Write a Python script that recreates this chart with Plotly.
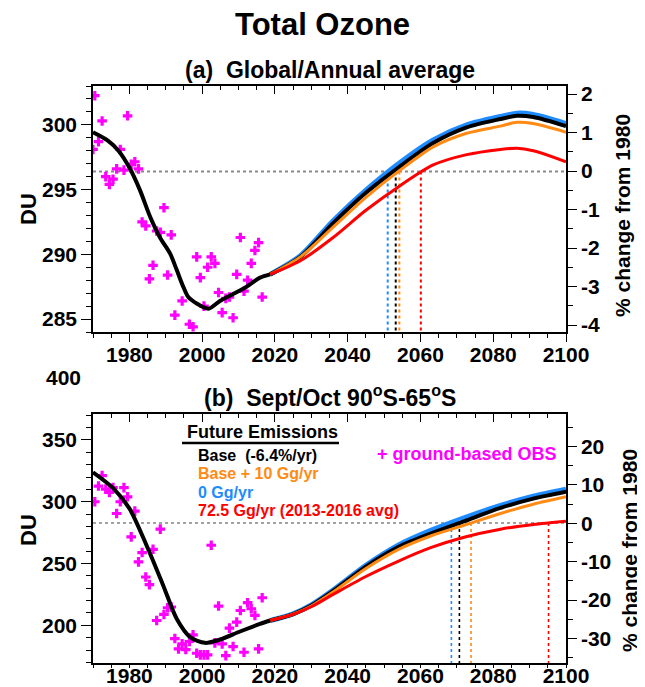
import plotly.graph_objects as go

# ---------------- data: panel (a) global/annual average ----------------
obs_a_years = [1970.0, 1970.5, 1971.5, 1972.5, 1973.5, 1974.5, 1975.5, 1976.5, 1977.5, 1978.5,
               1979.5, 1980.5, 1981.5, 1982.5, 1983.5, 1984.5, 1985.5, 1986.5, 1987.5, 1988.5,
               1989.5, 1990.5, 1991.5, 1992.5, 1994.5, 1996.5, 1997.5, 1998.5, 1999.5, 2000.5,
               2001.5, 2002.5, 2003.5, 2004.5, 2005.5, 2006.5, 2007.5, 2008.5, 2009.5, 2010.5,
               2011.5, 2012.5, 2013.5, 2014.5, 2015.5, 2016.5]
obs_a_du = [298.1, 302.25, 298.7, 300.3, 296.0, 295.4, 295.8, 296.6, 298.1, 296.5,
            300.7, 296.95, 297.15, 296.6, 292.5, 292.2, 288.1, 289.15, 291.8, 291.7,
            293.6, 288.4, 291.5, 285.3, 286.4, 284.6, 284.4, 289.8, 288.2, 286.0,
            289.0, 289.8, 289.3, 287.05, 285.5, 286.6, 286.7, 285.1, 288.45, 291.3,
            287.15, 288.0, 289.3, 290.3, 290.9, 286.7]

hist_a_years = [1970, 1974, 1977, 1980.0, 1982.9, 1985.7, 1988.4, 1991.2, 1993.0, 1994.8,
                1996.2, 1998.5, 2001.7, 2004.9, 2008.6, 2012.2, 2015.9, 2018.7]
hist_a_du = [299.43, 298.8, 298.0, 296.7, 294.96, 292.9, 291.3, 290.05, 288.8, 287.5,
             286.7, 286.2, 285.8, 286.4, 286.95, 287.5, 288.2, 288.45]

fut_a_years = [2018.7, 2027, 2036, 2045, 2054.4, 2063.5, 2072.7, 2082, 2086.5, 2091, 2100]
fut_a_blue = [288.45, 289.9, 292.6, 294.96, 297.1, 298.84, 300.0, 300.65, 300.9, 300.8, 300.1]
fut_a_black = [288.45, 289.8, 292.4, 294.75, 296.8, 298.6, 299.8, 300.45, 300.7, 300.6, 299.9]
fut_a_orange = [288.45, 289.8, 292.1, 294.4, 296.5, 298.3, 299.35, 299.9, 300.2, 300.1, 299.43]
fut_a_red = [288.45, 289.5, 291.3, 293.4, 295.3, 296.9, 297.7, 298.1, 298.2, 298.0, 297.15]

ref_a = 296.4
cross_a = {"blue": 2051.0, "black": 2053.2, "orange": 2054.2, "red": 2060.1}

# ---------------- data: panel (b) Sept/Oct 90S-65S ----------------
obs_b_years = [1970.5, 1971.5, 1972.5, 1973.5, 1974.5, 1975.5, 1976.5, 1977.5, 1978.5, 1979.5,
               1980.5, 1981.5, 1982.5, 1983.5, 1984.5, 1985.5, 1986.5, 1987.5, 1988.5, 1989.5,
               1990.5, 1991.5, 1992.5, 1993.5, 1994.5, 1995.5, 1996.5, 1997.5, 1998.5, 1999.5,
               2000.5, 2001.5, 2002.5, 2003.5, 2004.5, 2005.5, 2006.5, 2007.5, 2008.5, 2009.5,
               2010.5, 2011.5, 2012.5, 2013.5, 2014.5, 2015.5, 2016.5]
obs_b_du = [300.0, 312.7, 321.1, 310.2, 307.5, 311.4, 290.5, 300.0, 311.4, 304.0,
            271.6, 292.4, 251.3, 258.9, 239.1, 232.9, 261.5, 203.9, 277.8, 208.8,
            214.2, 214.8, 189.3, 180.9, 185.0, 180.4, 186.9, 192.3, 177.4, 176.1,
            176.1, 176.1, 264.8, 185.8, 215.6, 185.0, 175.5, 197.7, 182.8, 202.6,
            212.0, 178.2, 218.3, 213.4, 208.0, 180.9, 222.3]

hist_b_years = [1970, 1975.6, 1980.0, 1984.7, 1989.3, 1993.0, 1996.7, 2000.8, 2004.9, 2010.4,
                2015.9, 2018.7]
hist_b_du = [323.8, 310.8, 294.6, 264.8, 232.3, 205.3, 190.5, 185.8, 188.5, 195.0, 201.2, 203.9]

fut_b_years = [2018.7, 2025, 2030, 2036, 2045, 2054, 2063, 2072, 2082, 2091, 2100]
fut_b_blue = [203.9, 209.3, 216.5, 228.5, 248.5, 265.0, 277.0, 287.0, 297.0, 304.5, 310.2]
fut_b_black = [203.9, 209.1, 216.0, 227.8, 247.5, 263.5, 274.5, 284.2, 295.0, 302.5, 308.1]
fut_b_orange = [203.9, 209.0, 215.6, 227.0, 246.0, 261.5, 272.5, 281.0, 290.5, 298.0, 304.0]
fut_b_red = [203.9, 208.8, 215.0, 225.0, 239.5, 252.0, 263.0, 271.3, 277.8, 281.6, 284.3]

ref_b = 282.8
cross_b = {"blue": 2068.5, "black": 2070.7, "orange": 2073.9, "red": 2095.2}

# tick values
xt = [1980, 2000, 2020, 2040, 2060, 2080, 2100]
pct_a = [-4, -3, -2, -1, 0, 1, 2]
pct_b = [-30, -20, -10, 0, 10, 20]

# ---------------- styling / geometry ----------------
FONT = "Liberation Sans, Arial, Helvetica, sans-serif"
COL = {"blue": "#1E8CFF", "black": "#000000", "orange": "#FF8A14", "red": "#FF0000"}
MAG = "#FF00FF"
WID = {"blue": 5, "black": 4, "orange": 3, "red": 3}
OFF = 8          # the page body margin shifts the figure by 8px
W, H = 645 - OFF, 687 - OFF


def fx(px):
    return (px - OFF) / W


def fy(py):
    return 1 - (py - OFF) / H


fig = go.Figure()


def add_panel(xa, ya, yb, xtop, obs_x, obs_y, hx, hy, fxs, fut, ref, cross, ymin, rcol, rw, vw):
    fig.add_trace(go.Scatter(x=[1970, 2100], y=[ref, ref], mode="lines", xaxis=xa, yaxis=ya,
                             line=dict(color=rcol, width=rw, dash="dot"),
                             showlegend=False, hoverinfo="skip"))
    for k in ["blue", "black", "orange", "red"]:
        fig.add_trace(go.Scatter(x=[cross[k], cross[k]], y=[ref, ymin], mode="lines",
                                 xaxis=xa, yaxis=ya,
                                 line=dict(color=COL[k], width=vw, dash="dot"),
                                 showlegend=False, hoverinfo="skip"))
    fig.add_trace(go.Scatter(x=obs_x, y=obs_y, mode="markers", xaxis=xa, yaxis=ya,
                             marker=dict(symbol="cross", size=8, color=MAG, line=dict(width=0)),
                             showlegend=False))
    for k in ["blue", "black", "orange", "red"]:
        fig.add_trace(go.Scatter(x=fxs, y=fut[k], mode="lines", xaxis=xa, yaxis=ya,
                                 line=dict(color=COL[k], width=WID[k], shape="spline",
                                           smoothing=0.8),
                                 showlegend=False))
    fig.add_trace(go.Scatter(x=hx, y=hy, mode="lines", xaxis=xa, yaxis=ya,
                             line=dict(color="black", width=4, shape="spline", smoothing=0.8),
                             showlegend=False))
    # dummies so that the secondary axes are drawn
    fig.add_trace(go.Scatter(x=[1970], y=[0], mode="markers", xaxis=xa, yaxis=yb,
                             marker=dict(opacity=0), showlegend=False, hoverinfo="skip"))
    fig.add_trace(go.Scatter(x=[1970], y=[ref], mode="markers", xaxis=xtop, yaxis=ya,
                             marker=dict(opacity=0), showlegend=False, hoverinfo="skip"))


add_panel("x", "y", "y2", "x3", obs_a_years, obs_a_du, hist_a_years, hist_a_du, fut_a_years,
          {"blue": fut_a_blue, "black": fut_a_black, "orange": fut_a_orange, "red": fut_a_red},
          ref_a, cross_a, 284, "#8a8a8a", 2, 2)
add_panel("x2", "y3", "y4", "x4", obs_b_years, obs_b_du, hist_b_years, hist_b_du, fut_b_years,
          {"blue": fut_b_blue, "black": fut_b_black, "orange": fut_b_orange, "red": fut_b_red},
          ref_b, cross_b, 169.5, "#444444", 1, 1.6)

tickf = dict(family=FONT, size=21, color="black", weight="bold")
XD = [fx(93), fx(566)]
YA = [fy(332), fy(86)]
YB = [fy(663), fy(414)]
LC = "black"


def xax(anchor, tlen, mlen, stand):
    return dict(domain=XD, anchor=anchor, range=[1970, 2100], tickvals=xt,
                ticktext=[str(v) for v in xt],
                ticks="outside", ticklen=tlen, tickwidth=1.2, tickcolor=LC,
                showline=True, linecolor=LC, linewidth=1.5, mirror=False,
                showgrid=False, zeroline=False, tickfont=tickf, ticklabelstandoff=stand,
                minor=dict(dtick=5, tick0=1970, ticklen=mlen, ticks="outside", tickcolor=LC,
                           tickwidth=1.2),
                automargin=False)


def xtop(anchor, over):
    return dict(domain=XD, anchor=anchor, overlaying=over, side="top", range=[1970, 2100],
                tickvals=xt, ticks="inside", ticklen=8, tickwidth=1.2, tickcolor=LC,
                showticklabels=False, showline=True, linecolor=LC, linewidth=1.5,
                showgrid=False, zeroline=False,
                minor=dict(dtick=5, tick0=1970, ticklen=4, ticks="inside", tickcolor=LC,
                           tickwidth=1.2),
                automargin=False)


def yax(anchor, domain, rng, dtick, minor):
    return dict(domain=domain, anchor=anchor, range=rng, dtick=dtick, ticks="outside",
                ticklen=10, tickwidth=1.2, tickcolor=LC, showline=True, linecolor=LC,
                linewidth=1.5, showgrid=False, zeroline=False, tickfont=tickf,
                minor=dict(dtick=minor, ticklen=5, ticks="outside", tickcolor=LC,
                           tickwidth=1.2),
                automargin=False)


def y2ax(anchor, over, rng, vals, minor):
    return dict(anchor=anchor, overlaying=over, side="right", range=rng, tickvals=vals,
                ticktext=[str(v) for v in vals],
                ticks="outside", ticklen=9, tickwidth=1.2, tickcolor=LC, showline=True,
                linecolor=LC, linewidth=1.5, showgrid=False, zeroline=False,
                tickfont=tickf,
                minor=dict(dtick=minor, ticklen=5, ticks="outside", tickcolor=LC,
                           tickwidth=1.2),
                automargin=False)


fig.update_layout(
    width=W, height=H, autosize=False,
    margin=dict(l=0, r=0, t=0, b=0),
    paper_bgcolor="white", plot_bgcolor="white",
    font=dict(family=FONT, color="black"),
    showlegend=False,
    xaxis=xax("y", 8, 4, -5),
    xaxis3=xtop("y", "x"),
    yaxis=yax("x", YA, [284, 303], 5, 1),
    yaxis2=y2ax("x", "y", [-4.18, 2.21], pct_a, 0.5),
    xaxis2=xax("y3", 3, 3, -10),
    xaxis4=xtop("y3", "x2"),
    yaxis3=yax("x2", YB, [169.5, 371], 50, 10),
    yaxis4=y2ax("x2", "y3", [-36.4, 28.5], pct_b, 5),
)


def pa(text, x, y, size, color="black", xanchor="center", angle=0):
    return dict(text=text, x=fx(x), y=fy(y), xref="paper", yref="paper", showarrow=False,
                font=dict(family=FONT, size=size, weight="bold", color=color),
                xanchor=xanchor, yanchor="middle", textangle=angle)


ann = [
    pa("Total Ozone", 322.5, 24, 31),
    pa("(a)  Global/Annual average", 330, 70, 23),
    pa("(b)  Sept/Oct 90<sup>o</sup>S-65<sup>o</sup>S", 330, 396, 23),
    dict(text="400", x=fx(83), y=fy(378), xref="paper", yref="paper", showarrow=False,
         font=tickf, xanchor="right", yanchor="middle"),
    pa("DU", 28, 209, 22, angle=-90),
    pa("DU", 28, 530, 22, angle=-90),
    pa("% change from 1980", 622, 216, 21, angle=-90),
    pa("% change from 1980", 629, 551, 21, angle=-90),
    pa("Future Emissions", 185, 432, 18, xanchor="left"),
    pa("+ ground-based OBS", 375, 454, 18, color=MAG, xanchor="left"),
]
leg = [("Base  (-6.4%/yr)", "black", 455), ("Base + 10 Gg/yr", "orange", 473.5),
       ("0 Gg/yr", "blue", 492), ("72.5 Gg/yr (2013-2016 avg)", "red", 510)]
for t, c, yy in leg:
    ann.append(pa(t, 196, yy, 16, color=COL[c], xanchor="left"))

shapes = [dict(type="line", xref="paper", yref="paper", x0=fx(182), x1=fx(339),
               y0=fy(443), y1=fy(443), line=dict(color="black", width=2.5))]
fig.update_layout(annotations=ann, shapes=shapes)

fig.write_html("out.html")
